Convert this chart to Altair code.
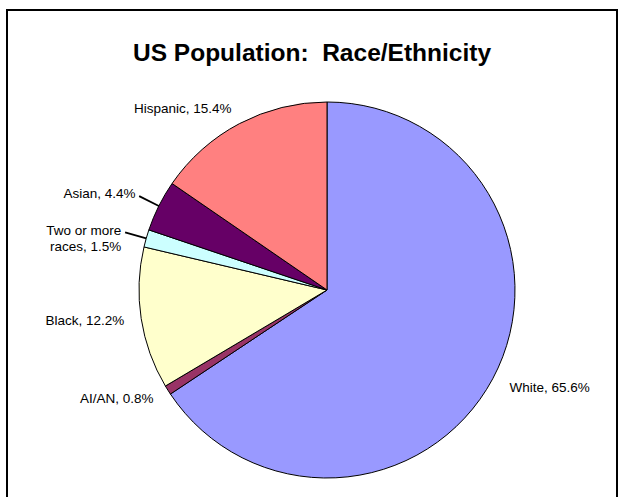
import altair as alt
import pandas as pd

# ---- data ----
categories = ["White", "AI/AN", "Black", "Two or more races", "Asian", "Hispanic"]
label_names = ["White", "AI/AN", "Black", "Two or more\nraces", "Asian", "Hispanic"]
percents = [65.6, 0.8, 12.2, 1.5, 4.4, 15.4]
slice_colors = ["#9999FF", "#993366", "#FFFFCC", "#CCFFFF", "#660066", "#FF8080"]
leader_categories = ["Two or more races", "Asian"]
title_text = "US Population:\u00a0 Race/Ethnicity"

df = pd.DataFrame({
    "category": categories,
    "pct": percents,
    "order": list(range(len(categories))),
    "label": [f"{n}, {p}%" for n, p in zip(label_names, percents)],
    "leader": [c in leader_categories for c in categories],
})
total = sum(percents)

FONT = "Liberation Sans, Arial, sans-serif"
CX, CY = 320, 280
R = 188
LABEL_SIZE = 13.5

theta_scale = alt.Scale(domain=[0, total], range=[0, 6.283185307179586])

base = alt.Chart(df).transform_window(
    cum="sum(pct)", sort=[alt.SortField("order")], frame=[None, 0]
).transform_calculate(
    start="datum.cum - datum.pct",
    mid="datum.cum - datum.pct / 2",
    side=f"datum.cum - datum.pct / 2 < {total / 2} ? 'right' : 'left'",
    lead0="datum.cum - datum.pct / 2 - 0.07",
    lead1="datum.cum - datum.pct / 2 + 0.07",
)

center = dict(x=alt.value(CX), y=alt.value(CY))

pie = base.mark_arc(outerRadius=R, stroke="black", strokeWidth=1).encode(
    theta=alt.Theta("start:Q", scale=theta_scale, stack=None),
    theta2="cum:Q",
    color=alt.Color("category:N",
                    scale=alt.Scale(domain=categories, range=slice_colors),
                    legend=None),
    order=alt.Order("order:Q"),
    **center,
)

leaders = base.transform_filter("datum.leader").mark_arc(
    innerRadius=R, outerRadius=R + 22, color="black"
).encode(
    theta=alt.Theta("lead0:Q", scale=theta_scale, stack=None),
    theta2="lead1:Q",
    **center,
)

text_kw = dict(font=FONT, fontSize=LABEL_SIZE, color="black",
               baseline="middle", lineBreak="\n")

labels_left = base.transform_filter(
    "datum.side == 'left' && !datum.leader"
).mark_text(radius=205, align="right", **text_kw).encode(
    theta=alt.Theta("mid:Q", scale=theta_scale, stack=None),
    text="label:N",
    **center,
)

labels_right = base.transform_filter(
    "datum.side == 'right' && !datum.leader"
).mark_text(radius=207, align="left", **text_kw).encode(
    theta=alt.Theta("mid:Q", scale=theta_scale, stack=None),
    text="label:N",
    **center,
)

labels_leader = base.transform_filter("datum.leader").mark_text(
    radius=R + 26, align="right", **text_kw
).encode(
    theta=alt.Theta("mid:Q", scale=theta_scale, stack=None),
    text="label:N",
    **center,
)

chart = alt.layer(pie, leaders, labels_left, labels_right, labels_leader).properties(
    width=610,
    height=495,
    padding={"left": 7, "top": 10, "right": 6, "bottom": 0},
    autosize=alt.AutoSizeParams(type="none"),
    title=alt.Title(title_text, font=FONT, fontSize=24.5, fontWeight="bold",
                    color="black", anchor="middle", dy=60),
).configure(background="white").configure_view(stroke="black", strokeWidth=2)

chart.save("out.html", embed_options={"renderer": "svg", "actions": False})
